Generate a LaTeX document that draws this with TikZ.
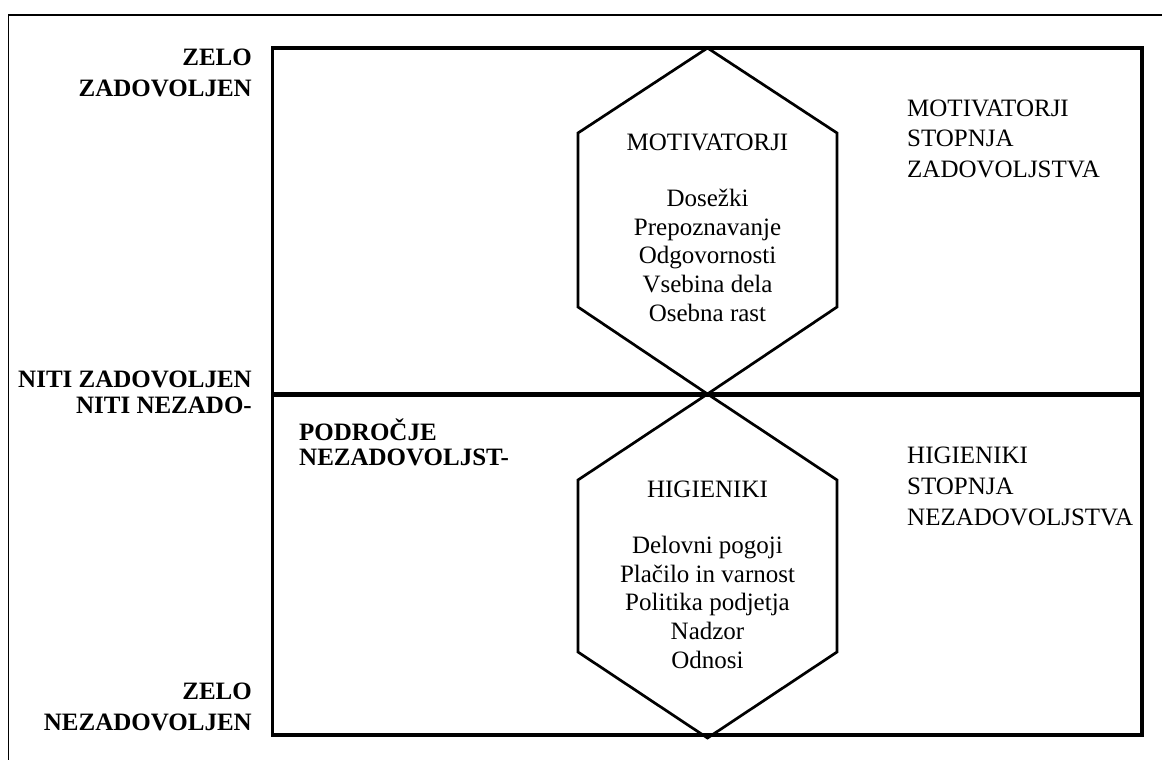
\documentclass[tikz,border=0pt]{standalone}
\usepackage{fontspec}
\setmainfont{Liberation Serif}
\begin{document}
\begin{tikzpicture}[x=1pt,y=-1pt,
  frameline/.style={line width=1.8pt},
  boxline/.style={line width=3.3pt},
  divline/.style={line width=5pt},
  hexline/.style={line width=2.7pt, line join=miter},
  sidelabel/.style={inner sep=0pt, font=\bfseries\fontsize{25}{26}\selectfont},
  axislabel/.style={inner sep=0pt, font=\bfseries\fontsize{25}{30.5}\selectfont},
  zonelabel/.style={inner sep=0pt, align=left, anchor=base west, font=\fontsize{25}{30.5}\selectfont},
  hextext/.style={inner sep=0pt, align=center, anchor=base, font=\fontsize{25}{28.6}\selectfont}]
\useasboundingbox (0,0) rectangle (1162,760);
\fill[white] (0,0) rectangle (1162,760);

% outer frame, running off the right and bottom edges
\begin{scope}
  \clip (0,0) rectangle (1162,760);
  \draw[frameline] (8.5,15) rectangle (1175,775);
\end{scope}

% main field and the neutral line
\coordinate (tl) at (272.5,48);
\coordinate (br) at (1142,735);
\draw[boxline] (tl) rectangle (br);
\coordinate (divL) at (272.5,394);
\coordinate (divR) at (1142,394);
\coordinate (mid) at (707.5,394);
\draw[divline] (divL) -- (divR);

% motivators hexagon (upper half)
\coordinate (mTop) at (707.5,48);
\coordinate (mUL) at (578,133);
\coordinate (mUR) at (837,133);
\coordinate (mLL) at (578,307);
\coordinate (mLR) at (837,307);
\draw[hexline] (mid) -- (mLL) -- (mUL) -- (mTop) -- (mUR) -- (mLR) -- cycle;

% hygiene hexagon (lower half)
\coordinate (hBot) at (707.5,738);
\coordinate (hUL) at (578,480);
\coordinate (hUR) at (837,480);
\coordinate (hLL) at (578,652);
\coordinate (hLR) at (837,652);
\draw[hexline] (mid) -- (hUL) -- (hLL) -- (hBot) -- (hLR) -- (hUR) -- cycle;

% scale labels on the left (anchored at the baseline of their last line)
\node[axislabel, align=right, anchor=base east] (verySat) at (252,96) {ZELO\\ZADOVOLJEN};
\node[sidelabel, align=right, anchor=base east] (neutral) at (252,413) {NITI ZADOVOLJEN\\NITI NEZADO-};
\node[sidelabel, align=left, anchor=base west, font=\bfseries\fontsize{25}{25}\selectfont] (dissatZone) at (299,465) {PODROČJE\\NEZADOVOLJST-};
\node[axislabel, align=right, anchor=base east] (veryDissat) at (252,730) {ZELO\\NEZADOVOLJEN};

% labels on the right
\node[zonelabel] (motLevel) at (907,177) {MOTIVATORJI\\STOPNJA\\ZADOVOLJSTVA};
\node[zonelabel, font=\fontsize{25}{31}\selectfont] (hygLevel) at (907,525) {HIGIENIKI\\STOPNJA\\NEZADOVOLJSTVA};

% hexagon contents
\node[hextext] (motTitle) at (707.5,150) {MOTIVATORJI};
\node[hextext] (motList) at (707.5,321) {Dosežki\\Prepoznavanje\\Odgovornosti\\Vsebina dela\\Osebna rast};
\node[hextext] (hygTitle) at (707.5,497) {HIGIENIKI};
\node[hextext] (hygList) at (707.5,668) {Delovni pogoji\\Plačilo in varnost\\Politika podjetja\\Nadzor\\Odnosi};
\end{tikzpicture}
\end{document}
